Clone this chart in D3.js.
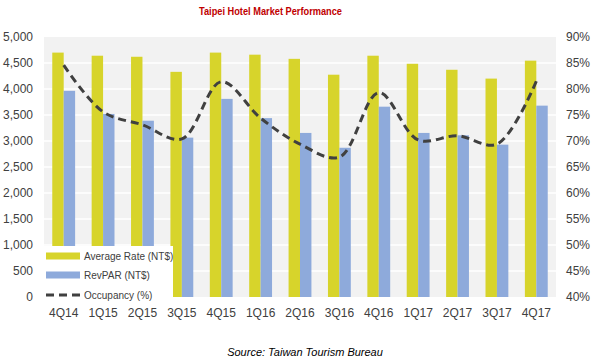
<!DOCTYPE html>
<html><head><meta charset="utf-8">
<script src="https://cdn.jsdelivr.net/npm/d3@7"></script>
<style>body{margin:0;background:#fff;}svg{display:block;font-family:"Liberation Sans",Arial,sans-serif;}</style>
</head><body><svg id="c" width="600" height="363"></svg>
<script>
const categories = ["4Q14","1Q15","2Q15","3Q15","4Q15","1Q16","2Q16","3Q16","4Q16","1Q17","2Q17","3Q17","4Q17"];
const averageRate = [4700,4640,4620,4330,4700,4660,4580,4275,4640,4485,4370,4200,4545];
const revPAR = [3965,3520,3390,3065,3810,3440,3155,2870,3660,3155,3110,2930,3680];
const occupancy = [84.6,75.6,73.1,70.4,81.4,74.4,69.4,66.9,79.3,70.2,71.0,69.4,81.5];
const leftTicks = [0,500,1000,1500,2000,2500,3000,3500,4000,4500,5000];
const rightTicks = [40,45,50,55,60,65,70,75,80,85,90];

const svg = d3.select("#c");
const L=44,R=556,T=37,B=297;
const x = d3.scaleBand().domain(categories).range([L,R]).paddingInner(0.42).paddingOuter(0.21);
const xs = d3.scaleBand().domain(["rate","rev"]).range([0,x.bandwidth()]);
const y = d3.scaleLinear().domain([0,5000]).range([B,T]);
const y2 = d3.scaleLinear().domain([40,90]).range([B,T]);
const txt="#404040";

svg.append("rect").attr("x",L).attr("y",T).attr("width",R-L).attr("height",B-T).attr("fill","#f2f2f2");
svg.append("g").selectAll("line").data(leftTicks.slice(1,-1)).join("line")
  .attr("x1",L).attr("x2",R).attr("y1",d=>y(d)).attr("y2",d=>y(d))
  .attr("stroke","#fff").attr("stroke-width",1.5);

const g = svg.append("g").selectAll("g").data(categories).join("g").attr("transform",d=>`translate(${x(d)},0)`);
g.append("rect").attr("x",xs("rate")).attr("width",xs.bandwidth())
  .attr("y",(d,i)=>y(averageRate[i])).attr("height",(d,i)=>B-y(averageRate[i])).attr("fill","#d7d42b");
g.append("rect").attr("x",xs("rev")).attr("width",xs.bandwidth())
  .attr("y",(d,i)=>y(revPAR[i])).attr("height",(d,i)=>B-y(revPAR[i])).attr("fill","#8eaadb");

const line = d3.line().x((d,i)=>x(categories[i])+x.bandwidth()/2).y(d=>y2(d)).curve(d3.curveCatmullRom.alpha(0.5));
svg.append("path").datum(occupancy).attr("d",line).attr("fill","none")
  .attr("stroke","#404040").attr("stroke-width",3).attr("stroke-dasharray","8,5");

// axes
const ax = d3.axisLeft(y).tickValues(leftTicks).tickSize(0).tickPadding(0).tickFormat(d3.format(","));
const la = svg.append("g").attr("transform","translate(33,0)").call(ax);
la.select(".domain").remove();
la.selectAll("text").attr("fill",txt).attr("font-size",12).attr("font-family","Liberation Sans, Arial, sans-serif");
const ax2 = d3.axisRight(y2).tickValues(rightTicks).tickSize(0).tickPadding(0).tickFormat(d=>d+"%");
const ra = svg.append("g").attr("transform","translate(566,0)").call(ax2);
ra.select(".domain").remove();
ra.selectAll("text").attr("fill",txt).attr("font-size",12).attr("font-family","Liberation Sans, Arial, sans-serif");
const bx = d3.axisBottom(x).tickSize(0).tickPadding(0);
const ba = svg.append("g").attr("transform","translate(0,308)").call(bx);
ba.select(".domain").remove();
ba.selectAll("text").attr("fill",txt).attr("font-size",12).attr("font-family","Liberation Sans, Arial, sans-serif");

// legend
const lg = svg.append("g");
lg.append("rect").attr("x",L).attr("y",246).attr("width",129).attr("height",58).attr("fill","#fff");
const items=[{t:"Average Rate (NT$)",c:"#d7d42b",k:"bar"},{t:"RevPAR (NT$)",c:"#8eaadb",k:"bar"},{t:"Occupancy (%)",c:"#404040",k:"line"}];
items.forEach((it,i)=>{
  const cy=[256,275,295][i];
  if(it.k==="bar") lg.append("rect").attr("x",46).attr("y",cy-3.5).attr("width",34).attr("height",7).attr("fill",it.c);
  else lg.append("line").attr("x1",46).attr("x2",80).attr("y1",cy).attr("y2",cy).attr("stroke",it.c).attr("stroke-width",3).attr("stroke-dasharray","8,5");
  lg.append("text").attr("x",84).attr("y",cy+3.5).attr("font-size",10).attr("fill",txt).text(it.t);
});

svg.append("text").attr("x",270.5).attr("y",15).attr("text-anchor","middle").attr("font-weight","bold")
  .attr("font-size",11).attr("fill","#c00000").attr("textLength",143).attr("lengthAdjust","spacingAndGlyphs")
  .text("Taipei Hotel Market Performance");
svg.append("text").attr("x",305).attr("y",356).attr("text-anchor","middle").attr("font-style","italic")
  .attr("font-size",11).attr("fill","#000").text("Source: Taiwan Tourism Bureau");
</script></body></html>
